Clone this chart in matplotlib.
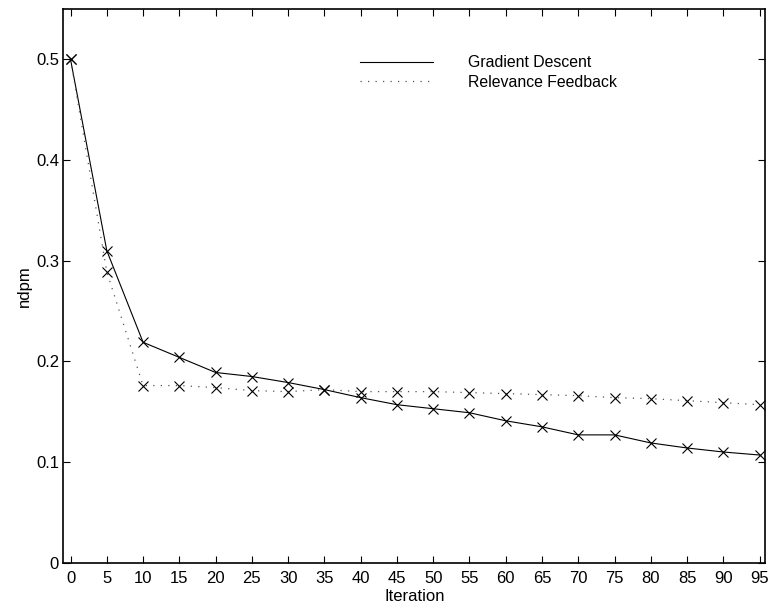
import matplotlib
matplotlib.use('Agg')
import matplotlib.pyplot as plt

plt.rcParams['font.family'] = ['Liberation Sans', 'DejaVu Sans']

ITERATIONS = [0, 5, 10, 15, 20, 25, 30, 35, 40, 45,
              50, 55, 60, 65, 70, 75, 80, 85, 90, 95]

GRADIENT_DESCENT = [0.500, 0.310, 0.219, 0.204, 0.189, 0.185, 0.179, 0.172, 0.164, 0.157,
                    0.153, 0.149, 0.141, 0.135, 0.127, 0.127, 0.119, 0.114, 0.110, 0.107]

RELEVANCE_FEEDBACK = [0.500, 0.289, 0.176, 0.176, 0.174, 0.171, 0.170, 0.172, 0.170, 0.170,
                      0.170, 0.169, 0.168, 0.167, 0.166, 0.164, 0.163, 0.161, 0.159, 0.157]

SERIES_LABELS = ["Gradient Descent", "Relevance Feedback"]
Y_TICKS = [0, 0.1, 0.2, 0.3, 0.4, 0.5]
Y_TICK_LABELS = ["0", "0.1", "0.2", "0.3", "0.4", "0.5"]

FS = 12

fig = plt.figure(figsize=(7.69, 6.09), dpi=100)
ax = fig.add_axes([0.0823, 0.076, 0.913, 0.909])

# lines (labelled, used for the legend)
ax.plot(ITERATIONS, GRADIENT_DESCENT, color='black', lw=0.8,
        label=SERIES_LABELS[0])
ax.plot(ITERATIONS, RELEVANCE_FEEDBACK, color='#555555', lw=0.9,
        linestyle=(0, (1, 5)), label=SERIES_LABELS[1])

# cross markers on top of both curves
ax.plot(ITERATIONS, GRADIENT_DESCENT, 'x', color='black', ms=6.5, mew=0.8)
ax.plot(ITERATIONS, RELEVANCE_FEEDBACK, 'x', color='black', ms=6.5, mew=0.8)

ax.set_xlim(-1, 95.8)
ax.set_ylim(0, 0.55)
ax.set_xticks(ITERATIONS)
ax.set_xticklabels([str(i) for i in ITERATIONS], fontsize=FS)
ax.set_yticks(Y_TICKS)
ax.set_yticklabels(Y_TICK_LABELS, fontsize=FS)
ax.tick_params(direction='in', length=5, width=0.8, top=True, right=True)
ax.tick_params(axis='x', pad=6)
ax.tick_params(axis='y', pad=3)
for s in ax.spines.values():
    s.set_linewidth(1.2)

ax.set_xlabel('Iteration', fontsize=FS, labelpad=2)
ax.set_ylabel('ndpm', fontsize=FS, labelpad=3)

ax.legend(loc='center left', bbox_to_anchor=(0.4226, 0.8855), frameon=False,
          borderpad=0, borderaxespad=0, handlelength=4.6, handletextpad=2.2,
          labelspacing=0.3, fontsize=FS - 0.6)

fig.savefig('out.png', dpi=100)
